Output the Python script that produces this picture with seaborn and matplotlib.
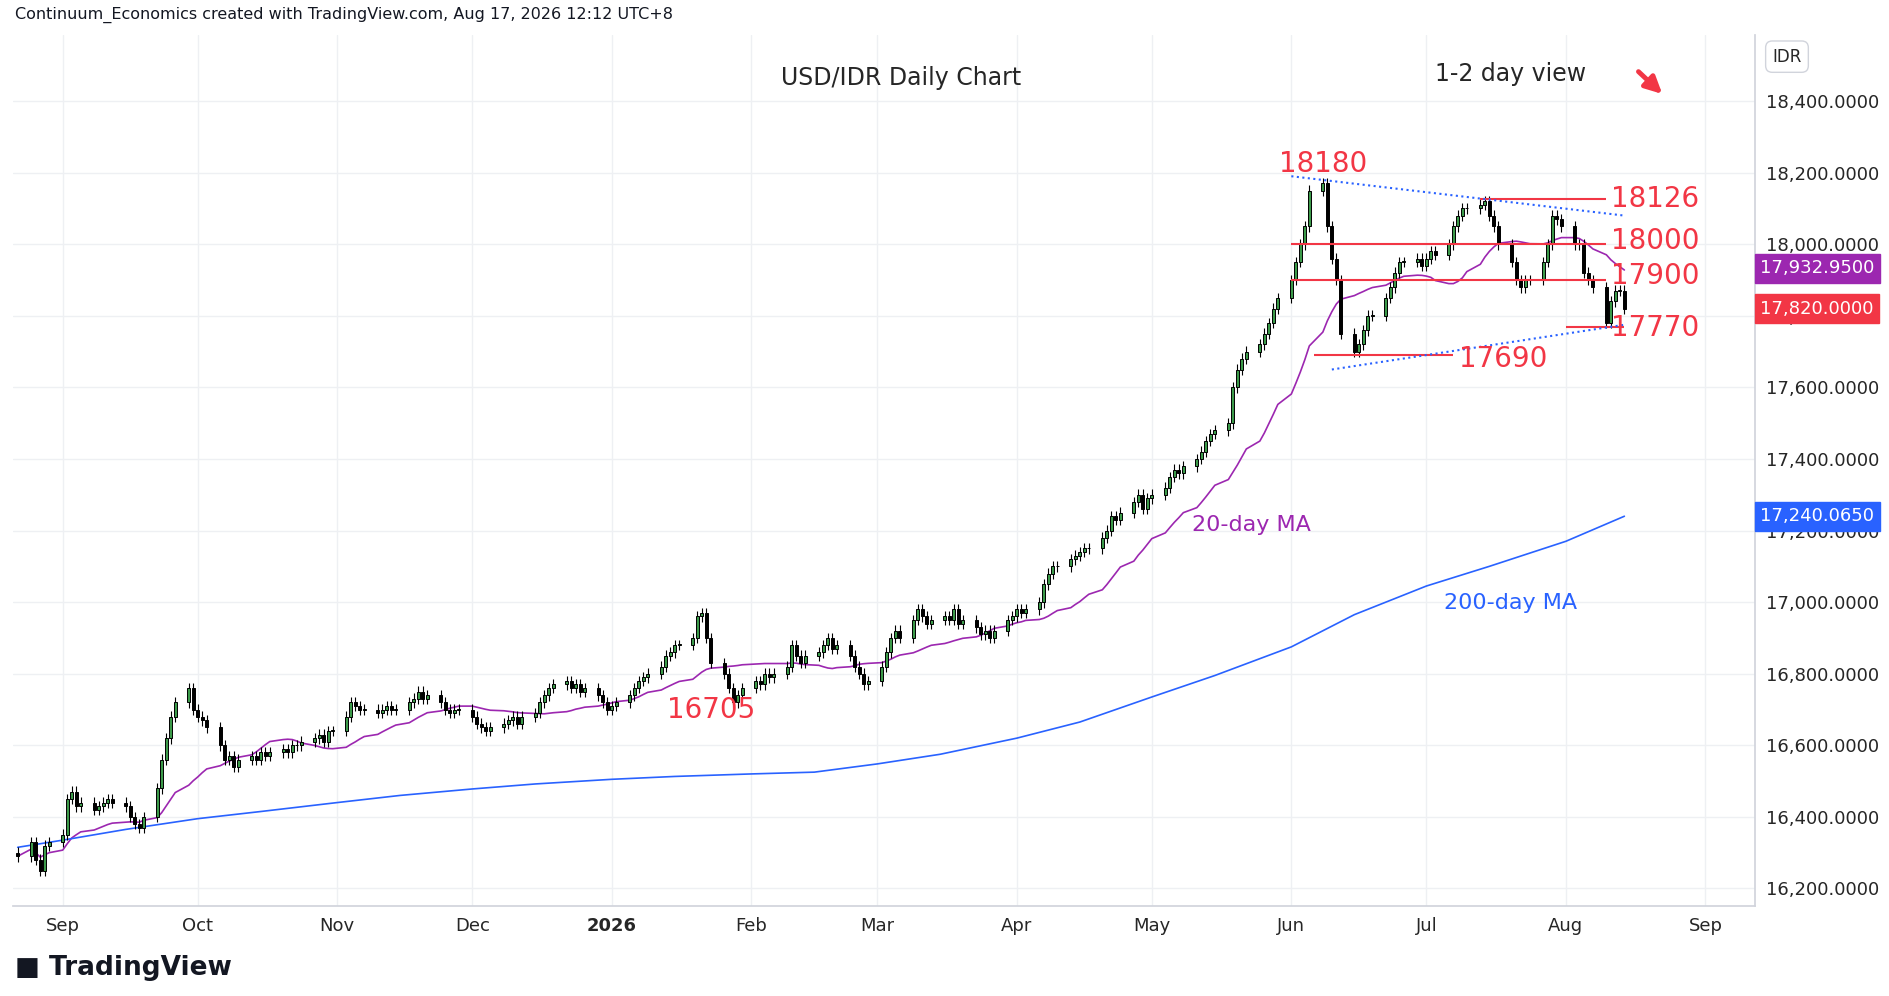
import pandas as pd
import numpy as np
import matplotlib
matplotlib.use("Agg")
import matplotlib.pyplot as plt
import matplotlib.dates as mdates
import seaborn as sns

# === Data ===
closes = [16290,
    16330, 16280, 16250, 16320, 16330,
    16350, 16450, 16470, 16430, 16440,
    16420, 16430, 16440, 16450, 16440,
    16430, 16400, 16380, 16370, 16400,
    16480, 16560, 16620, 16680, 16720,
    16760, 16700, 16680, 16670, 16650,
    16600, 16560, 16570, 16540, 16560,
    16570, 16560, 16580, 16570, 16580,
    16590, 16580, 16600, 16600, 16610,
    16620, 16630, 16610, 16640, 16640,
    16680, 16720, 16710, 16700, 16700,
    16690, 16700, 16710, 16700, 16700,
    16720, 16730, 16750, 16730, 16740,
    16720, 16700, 16690, 16700, 16700,
    16680, 16660, 16650, 16640, 16650,
    16660, 16670, 16680, 16660, 16680,
    16690, 16720, 16740, 16760, 16770,
    16780, 16760, 16770, 16750, 16760,
    16740, 16720, 16700, 16710, 16720,
    16740, 16760, 16780, 16790, 16800,
    16820, 16850, 16860, 16880, 16880,
    16900, 16960, 16970, 16900, 16830,
    16800, 16760, 16720, 16740, 16760,
    16780, 16770, 16800, 16790, 16800,
    16820, 16880, 16850, 16830, 16850,
    16860, 16880, 16900, 16870, 16880,
    16850, 16820, 16800, 16770, 16780,
    16820, 16860, 16900, 16920, 16900,
    16950, 16980, 16960, 16940, 16950,
    16960, 16950, 16980, 16940, 16950,
    16930, 16910, 16920, 16900, 16920,
    16950, 16960, 16980, 16970, 16980,
    17000, 17050, 17080, 17100, 17100,
    17120, 17130, 17140, 17150, 17150,
    17180, 17200, 17240, 17230, 17250,
    17280, 17300, 17260, 17290, 17300,
    17320, 17350, 17370, 17360, 17380,
    17400, 17420, 17450, 17470, 17480,
    17500, 17600, 17650, 17680, 17700,
    17720, 17750, 17780, 17820, 17850,
    17900, 17950, 18000, 18050, 18150,
    18170, 18050, 17960, 17900, 17750,
    17700, 17720, 17760, 17800, 17800,
    17850, 17880, 17920, 17950, 17950,
    17960, 17940, 17960, 17980, 17970,
    18000, 18050, 18080, 18100, 18100,
    18110, 18120, 18080, 18050, 18000,
    17950, 17900, 17880, 17900, 17900,
    17950, 18000, 18080, 18070, 18050,
    18000, 18000, 17920, 17900, 17880,
    17780, 17840, 17870, 17870, 17820]

ma200_dates = ["2025-08-22", "2025-09-01", "2025-09-15", "2025-10-01", "2025-10-15", "2025-11-01",
               "2025-11-15", "2025-12-01", "2025-12-15", "2026-01-01", "2026-01-15", "2026-02-01",
               "2026-02-15", "2026-03-01", "2026-03-15", "2026-04-01", "2026-04-15", "2026-05-01",
               "2026-05-15", "2026-06-01", "2026-06-15", "2026-07-01", "2026-07-15", "2026-08-01",
               "2026-08-14"]
ma200_vals = [16315, 16335, 16365, 16395, 16415, 16440, 16460, 16478, 16492, 16505, 16513, 16520,
              16525, 16548, 16575, 16620, 16665, 16735, 16795, 16875, 16965, 17045, 17100, 17170,
              17240]

levels = [  # value, start, end
    (18126, "2026-07-13", "2026-08-10"),
    (18000, "2026-06-01", "2026-08-10"),
    (17900, "2026-06-01", "2026-08-10"),
    (17770, "2026-08-01", "2026-08-14"),
    (17690, "2026-06-06", "2026-07-07"),
]
# text, anchor date, value, horizontal alignment
level_labels = [("18180", "2026-06-08", 18225, "center"), ("18126", "2026-08-11", 18126, "left"),
                ("18000", "2026-08-11", 18010, "left"), ("17900", "2026-08-11", 17910, "left"),
                ("17770", "2026-08-11", 17765, "left"), ("17690", "2026-07-18", 17680, "center"),
                ("16705", "2026-01-23", 16700, "center")]

df = pd.DataFrame({"date": pd.bdate_range("2025-08-22", periods=len(closes)), "close": closes})
df["open"] = df["close"].shift(1).fillna(16300)
df["high"] = df[["open", "close"]].max(axis=1) + 15
df["low"] = df[["open", "close"]].min(axis=1) - 15
df["ma20"] = df["close"].rolling(20, min_periods=1).mean()
df["x"] = mdates.date2num(df["date"])

RED = "#f23645"
PURPLE = "#9c27b0"
BLUE = "#2962ff"

sns.set_theme(style="white")
plt.rcParams["font.family"] = ["DejaVu Sans"]
fig = plt.figure(figsize=(18.89, 9.96), dpi=100)
ax = fig.add_axes([0.007, 0.09, 0.922, 0.875])

for y in range(16200, 18600, 200):
    ax.axhline(y, color="#eef0f3", lw=1, zorder=0)
months = pd.date_range("2025-09-01", "2026-09-01", freq="MS")
for m in months:
    ax.axvline(mdates.date2num(m), color="#eef0f3", lw=1, zorder=0)

# candles
for _, r in df.iterrows():
    up = r["close"] >= r["open"]
    ax.vlines(r["x"], r["low"], r["high"], color="black", lw=0.8, zorder=3)
    b = min(r["open"], r["close"])
    h = max(abs(r["close"] - r["open"]), 2)
    ax.add_patch(plt.Rectangle((r["x"] - 0.35, b), 0.7, h, facecolor="#3c9a4a" if up else "black",
                               edgecolor="black", lw=0.7, zorder=4))

sns.lineplot(x=df["x"], y=df["ma20"], ax=ax, color=PURPLE, lw=1.2, zorder=2)
sns.lineplot(x=mdates.date2num(pd.to_datetime(ma200_dates)), y=ma200_vals, ax=ax, color=BLUE, lw=1.2, zorder=2)

for v, s, e in levels:
    ax.hlines(v, mdates.date2num(pd.Timestamp(s)), mdates.date2num(pd.Timestamp(e)), color=RED, lw=1.5, zorder=5)
ax.plot(mdates.date2num(pd.to_datetime(["2026-06-01", "2026-08-14"])), [18190, 18080], ls=":", color=BLUE, lw=1.5, zorder=5)
ax.plot(mdates.date2num(pd.to_datetime(["2026-06-10", "2026-08-14"])), [17650, 17775], ls=":", color=BLUE, lw=1.5, zorder=5)

for t, d, y, ha in level_labels:
    ax.text(mdates.date2num(pd.Timestamp(d)), y, t, color=RED, fontsize=20, ha=ha, va="center", zorder=6)

ax.text(0.51, 0.95, "USD/IDR Daily Chart", transform=ax.transAxes, fontsize=17, fontweight="medium",
        ha="center", va="center")
ax.text(0.86, 0.955, "1-2 day view", transform=ax.transAxes, fontsize=17, fontweight="medium",
        ha="center", va="center")
ax.annotate("", xy=(0.948, 0.93), xytext=(0.932, 0.96), xycoords="axes fraction",
            arrowprops=dict(arrowstyle="-|>", color=RED, lw=3.5, mutation_scale=25))
ax.text(mdates.date2num(pd.Timestamp("2026-05-10")), 17200, "20-day MA", color=PURPLE, fontsize=16)
ax.text(mdates.date2num(pd.Timestamp("2026-07-05")), 16980, "200-day MA", color=BLUE, fontsize=16)

ax.set_xlim(mdates.date2num(pd.Timestamp("2025-08-21")), mdates.date2num(pd.Timestamp("2026-09-12")))
ax.set_ylim(16150, 18585)
ax.yaxis.tick_right()
ax.set_yticks(range(16200, 18600, 200))
ax.set_yticklabels([f"{v:,.4f}" for v in range(16200, 18600, 200)], fontsize=13)
ax.set_xticks(mdates.date2num(months))
labels = [("2026" if m.month == 1 else m.strftime("%b")) for m in months]
ax.set_xticklabels(labels, fontsize=13)
for lbl in ax.get_xticklabels():
    if lbl.get_text() == "2026":
        lbl.set_fontweight("bold")
ax.tick_params(axis="both", length=0, pad=8)
ax.set_xlabel("")
ax.set_ylabel("")
for s in ["top", "left"]:
    ax.spines[s].set_visible(False)
ax.spines["right"].set_color("#d1d4dc")
ax.spines["bottom"].set_color("#d1d4dc")

# price boxes on the axis
for v, c in [(17932.95, PURPLE), (17820.0, RED), (17240.065, BLUE)]:
    ax.text(1.003, (v - 16150) / (18585 - 16150), f"{v:,.4f}", transform=ax.transAxes, fontsize=13,
            color="white", va="center", ha="left",
            bbox=dict(boxstyle="square,pad=0.3", facecolor=c, edgecolor=c))
ax.text(1.01, 0.975, "IDR", transform=ax.transAxes, fontsize=12, va="center",
        bbox=dict(boxstyle="round,pad=0.4", facecolor="white", edgecolor="#d1d4dc"))

fig.text(0.008, 0.985, "Continuum_Economics created with TradingView.com, Aug 17, 2026 12:12 UTC+8",
         fontsize=11.5, va="center", color="#131722")
fig.text(0.008, 0.028, "\u25a0 TradingView", fontsize=19, fontweight="bold", va="center", color="#131722")

fig.savefig("out.png", dpi=100)
